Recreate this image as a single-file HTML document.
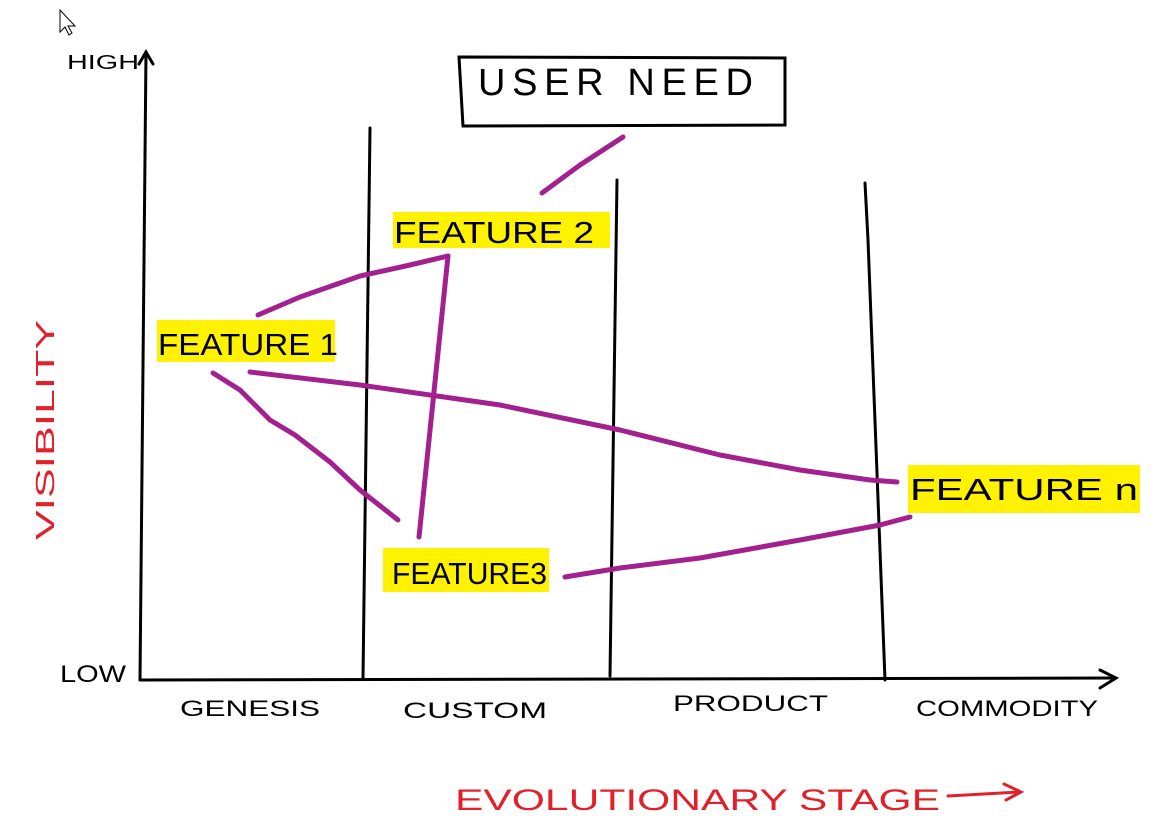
<!DOCTYPE html>
<html><head><meta charset="utf-8"><style>
html,body{margin:0;padding:0;background:#fff;}
svg{display:block;}
text{font-family:"Liberation Sans",sans-serif;}
</style></head><body>
<svg width="1162" height="816" viewBox="0 0 1162 816" xmlns="http://www.w3.org/2000/svg">
<rect width="1162" height="816" fill="#fff"/>
<path d="M60 10 L60 32 L65 27 L69 35 L72 33 L68 26 L75 26 Z" fill="#fff" stroke="#000" stroke-width="1"/>
<rect x="393" y="212" width="217" height="36" fill="#fff200"/>
<rect x="157" y="320" width="178" height="42" fill="#fff200"/>
<rect x="383" y="548" width="166" height="44" fill="#fff200"/>
<rect x="908" y="465" width="232" height="48" fill="#fff200"/>
<g stroke="#000" stroke-width="3" fill="none" stroke-linecap="round">
<path d="M146 52 L140 680"/>
<path d="M139 64 L146 52 L153 64"/>
<path d="M140 680 L1115 678"/>
<path d="M1100 670 L1116 678 L1100 688"/>
<path d="M370 128 L363 678"/>
<path d="M617 180 L610 676"/>
<path d="M865 183 L868 240 L885 680"/>
<path d="M459 57 L785 58 L785 125 L463 126 Z"/>
</g>
<g stroke="#a3208f" stroke-width="5" fill="none" stroke-linecap="round" stroke-linejoin="round">
<path d="M542 193 L580 165 L623 137"/>
<path d="M258 315 L300 297 L360 276 L410 265 L448 256"/>
<path d="M448 256 L419 537"/>
<path d="M213 373 L240 390 L270 420 L295 435 L330 462 L360 490 L398 520"/>
<path d="M250 372 L360 385 L500 405 L620 430 L720 455 L800 470 L870 480 L897 482"/>
<path d="M565 577 L620 568 L700 558 L800 540 L880 525 L910 517"/>
</g>
<g fill="#000">
<text x="67" y="69" font-size="20" textLength="72" lengthAdjust="spacingAndGlyphs">HIGH</text>
<text x="60" y="682" font-size="24" textLength="66" lengthAdjust="spacingAndGlyphs">LOW</text>
<text x="478" y="95" font-size="38" textLength="275" lengthAdjust="spacing">USER NEED</text>
<text x="394" y="243" font-size="31" textLength="200" lengthAdjust="spacingAndGlyphs">FEATURE 2</text>
<text x="158" y="355" font-size="31" textLength="180" lengthAdjust="spacingAndGlyphs">FEATURE 1</text>
<text x="392" y="584" font-size="31" textLength="155" lengthAdjust="spacingAndGlyphs">FEATURE3</text>
<text x="910" y="500" font-size="31" textLength="228" lengthAdjust="spacingAndGlyphs">FEATURE n</text>
<text x="180" y="716" font-size="22" textLength="140" lengthAdjust="spacingAndGlyphs">GENESIS</text>
<text x="403" y="718" font-size="22" textLength="144" lengthAdjust="spacingAndGlyphs">CUSTOM</text>
<text x="673" y="711" font-size="22" textLength="155" lengthAdjust="spacingAndGlyphs">PRODUCT</text>
<text x="916" y="716" font-size="22" textLength="182" lengthAdjust="spacingAndGlyphs">COMMODITY</text>
</g>
<g fill="#e0202a">
<text transform="translate(54,540) rotate(-90)" font-size="26" textLength="220" lengthAdjust="spacingAndGlyphs">VISIBILITY</text>
<text x="455" y="810" font-size="30" textLength="485" lengthAdjust="spacingAndGlyphs">EVOLUTIONARY  STAGE</text>
</g>
<g stroke="#e0202a" stroke-width="3" fill="none" stroke-linecap="round">
<path d="M948 796 L1020 792"/>
<path d="M1004 784 L1021 792 L1006 800"/>
</g>
</svg>
</body></html>
